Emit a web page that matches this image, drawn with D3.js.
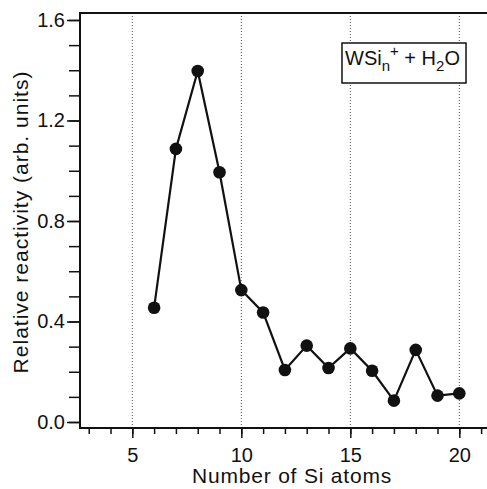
<!DOCTYPE html>
<html>
<head>
<meta charset="utf-8">
<script src="https://cdn.jsdelivr.net/npm/d3@7"></script>
<style>
  body { margin: 0; background: #fff; }
  svg text { font-family: "Liberation Sans", Arial, sans-serif; fill: #111; }
</style>
</head>
<body>
<svg id="chart" width="487" height="489"></svg>
<script>
// data
const siAtoms = [6, 7, 8, 9, 10, 11, 12, 13, 14, 15, 16, 17, 18, 19, 20]
const reactivity = [0.455, 1.087, 1.397, 0.994, 0.525, 0.436, 0.207, 0.304, 0.215, 0.293, 0.204, 0.085, 0.287, 0.105, 0.114]
const xTicks = [5, 10, 15, 20]
const yTicks = [0.0, 0.4, 0.8, 1.2, 1.6]

const svg = d3.select("#chart")
const mLeft = 80, mRight = 487, mTop = 13, mBottom = 428

const x = d3.scaleLinear().domain([2.6, 21.27]).range([mLeft, mRight])
const y = d3.scaleLinear().domain([0, 1.6]).range([422, 20])

// dotted grid lines at major x ticks
svg.append("g").selectAll("line")
    .data(xTicks)
    .join("line")
    .attr("x1", d => x(d)).attr("x2", d => x(d))
    .attr("y1", mTop).attr("y2", mBottom)
    .attr("stroke", "#555")
    .attr("stroke-width", 1)
    .attr("stroke-dasharray", "1,2")

// x axis
const xAxis = svg.append("g").attr("transform", `translate(0,${mBottom})`)
xAxis.call(d3.axisBottom(x).tickValues(d3.range(3, 22)).tickSize(6).tickFormat(""))
xAxis.call(g => g.select(".domain").remove())
xAxis.append("g").call(d3.axisBottom(x).tickValues(xTicks).tickSize(10).tickFormat(d3.format("d")))
    .call(g => g.select(".domain").remove())
    .call(g => g.selectAll("text").attr("font-size", 20).attr("y", 34).attr("dy", 0))
xAxis.selectAll("line").attr("stroke", "#111").attr("stroke-width", 1.5)

// y axis
const yAxis = svg.append("g").attr("transform", `translate(${mLeft},0)`)
yAxis.call(d3.axisLeft(y).tickValues(d3.range(0, 17).map(d => d / 10)).tickSize(11).tickFormat(""))
yAxis.call(g => g.select(".domain").remove())
yAxis.append("g").call(d3.axisLeft(y).tickValues(yTicks).tickSize(13).tickFormat(d3.format(".1f")))
    .call(g => g.select(".domain").remove())
    .call(g => g.selectAll("text").attr("font-size", 20).attr("x", -15))
yAxis.selectAll("line").attr("stroke", "#111").attr("stroke-width", 1.5)

// frame
svg.append("path")
    .attr("d", `M${mRight},${mTop} L${mLeft},${mTop} L${mLeft},${mBottom} L${mRight},${mBottom}`)
    .attr("fill", "none")
    .attr("stroke", "#111")
    .attr("stroke-width", 2)

// data line and markers
const pts = siAtoms.map((d, i) => [d, reactivity[i]])
svg.append("path")
    .datum(pts)
    .attr("d", d3.line().x(d => x(d[0])).y(d => y(d[1])))
    .attr("fill", "none")
    .attr("stroke", "#111")
    .attr("stroke-width", 2.2)

svg.append("g").selectAll("circle")
    .data(pts)
    .join("circle")
    .attr("cx", d => x(d[0]))
    .attr("cy", d => y(d[1]))
    .attr("r", 6.3)
    .attr("fill", "#111")

// legend box
const lg = svg.append("g")
lg.append("rect")
    .attr("x", 342).attr("y", 43)
    .attr("width", 124).attr("height", 40)
    .attr("fill", "#fff")
    .attr("stroke", "#111")
    .attr("stroke-width", 1.5)
const lt = lg.append("text").attr("x", 345).attr("y", 65).attr("font-size", 20)
lt.append("tspan").text("WSi")
lt.append("tspan").attr("font-size", 15).attr("dy", 6).text("n")
lt.append("tspan").attr("font-size", 15).attr("dy", -15).text("+")
lt.append("tspan").attr("dy", 9).text(" + H")
lt.append("tspan").attr("font-size", 15).attr("dy", 6).text("2")
lt.append("tspan").attr("dy", -6).text("O")

// axis titles
svg.append("text")
    .attr("x", 292).attr("y", 483)
    .attr("text-anchor", "middle")
    .attr("font-size", 21)
    .attr("letter-spacing", 0.8)
    .text("Number of Si atoms")

svg.append("text")
    .attr("transform", "translate(28,222) rotate(-90)")
    .attr("text-anchor", "middle")
    .attr("font-size", 21)
    .attr("letter-spacing", 1)
    .text("Relative reactivity (arb. units)")
</script>
</body>
</html>
